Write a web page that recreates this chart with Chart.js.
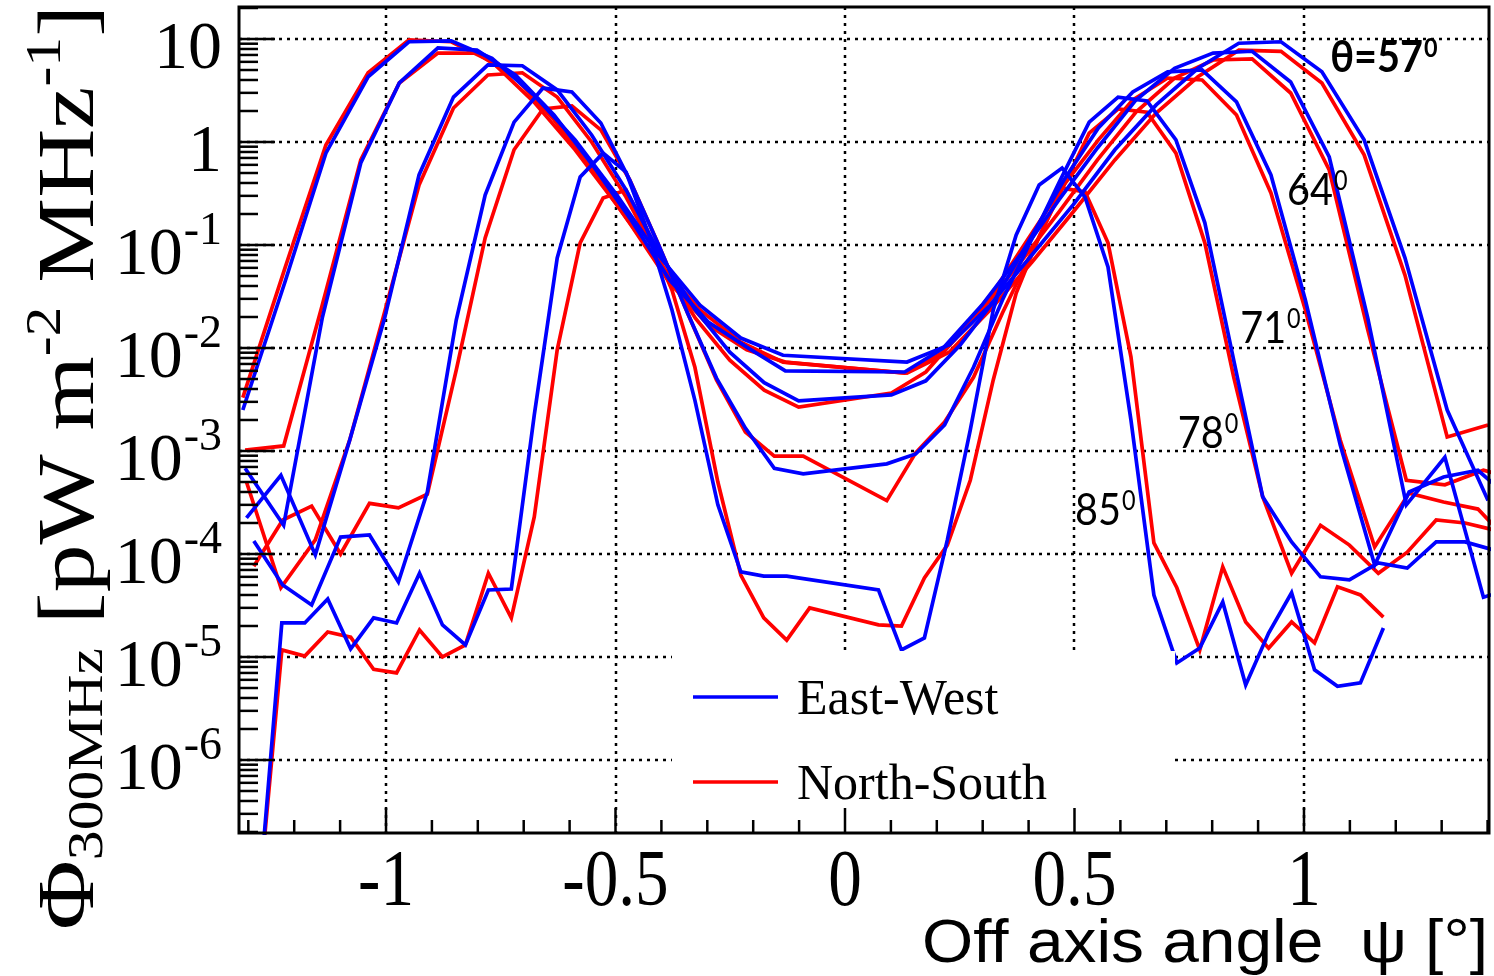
<!DOCTYPE html>
<html>
<head>
<meta charset="utf-8">
<title>Flux vs off axis angle</title>
<script src="https://cdn.jsdelivr.net/npm/chart.js@4.4.1/dist/chart.umd.min.js"></script>
<style>
  html, body { margin: 0; padding: 0; background: #fff; }
  #box { width: 1494px; height: 976px; }
</style>
</head>
<body>
<div id="box"><canvas id="chart" width="1494" height="976"></canvas></div>
<script>
// --- data: off axis angle psi [deg] and flux [pW m^-2 MHz^-1] per zenith angle ---
const psi57 = [-1.312, -1.220, -1.131, -1.039, -0.950, -0.858, -0.769, -0.678, -0.588, -0.497, -0.407, -0.316, -0.227, -0.135,
  0.135, 0.227, 0.316, 0.407, 0.497, 0.588, 0.678, 0.769, 0.858, 0.950, 1.039, 1.131, 1.220, 1.312, 1.401];
const flux57EW = [2.5e-3, 4.4e-2, 0.78, 4.3, 9.4, 9.6, 6.5, 2.86, 1.05, 0.305, 0.080, 0.026, 0.0125, 8.5e-3,
  7.3e-3, 0.0107, 0.026, 0.080, 0.245, 0.84, 2.29, 5.2, 9.1, 9.4, 4.8, 1.05, 0.075, 2.5e-3, 3.3e-4];
const flux57NS = [3.3e-3, 0.060, 0.935, 4.7, 9.8, 9.4, 6.0, 2.45, 0.84, 0.245, 0.068, 0.0234, 0.0114, 7.3e-3,
  5.7e-3, 9.1e-3, 0.0234, 0.068, 0.209, 0.67, 1.91, 4.3, 7.8, 7.6, 3.74, 0.75, 0.051, 1.37e-3, 1.79e-3];

const psi64 = [-1.307, -1.223, -1.139, -1.055, -0.971, -0.887, -0.802, -0.718, -0.634, -0.550, -0.466, -0.382, -0.298, -0.214, -0.130,
  0.130, 0.214, 0.298, 0.382, 0.466, 0.550, 0.634, 0.718, 0.802, 0.887, 0.971, 1.055, 1.139, 1.223, 1.307, 1.391, 1.475];
const flux64EW = [6.8e-4, 1.9e-4, 0.0195, 0.625, 3.74, 8.2, 7.8, 4.47, 1.83, 0.598, 0.175, 0.0457, 0.0179, 0.0102, 6.0e-3,
  5.85e-3, 0.010, 0.026, 0.080, 0.274, 0.875, 2.56, 5.2, 7.3, 7.6, 3.83, 0.715, 0.0195, 3.0e-4, 8.7e-4, 3.8e-5, 5.0e-5];
const flux64NS = [1.02e-3, 1.12e-3, 0.026, 0.67, 3.74, 7.3, 7.3, 4.18, 1.64, 0.535, 0.156, 0.0428, 0.0167, 9.6e-3, 7.3e-3,
  5.7e-3, 9.1e-3, 0.0234, 0.068, 0.209, 0.67, 1.95, 4.18, 6.25, 6.4, 2.99, 0.535, 0.0150, 5.2e-4, 4.7e-4, 6.5e-4, 5.2e-4];

const psi71 = [-1.304, -1.229, -1.154, -1.079, -1.003, -0.928, -0.853, -0.778, -0.703, -0.627, -0.552, -0.477, -0.402, -0.326, -0.251, -0.176, -0.101,
  0.101, 0.176, 0.251, 0.326, 0.402, 0.477, 0.552, 0.627, 0.703, 0.778, 0.853, 0.928, 1.003, 1.079, 1.154, 1.229, 1.304, 1.379, 1.454];
const flux71EW = [2.24e-4, 5.8e-4, 9.8e-5, 1.28e-3, 0.0195, 0.479, 2.73, 5.6, 5.5, 3.2, 1.17, 0.342, 0.080, 0.0234, 9.1e-3, 4.6e-3, 3.06e-3,
  3.5e-3, 4.8e-3, 0.0107, 0.0292, 0.112, 0.428, 1.37, 3.06, 4.8, 5.0, 2.45, 0.479, 0.0292, 1.14e-3, 7.8e-5, 4.0e-4, 5.6e-4, 6.5e-4, 3.3e-4];
const flux71NS = [5.0e-4, 4.7e-5, 1.37e-4, 1.28e-3, 0.0224, 0.383, 2.14, 4.47, 4.7, 2.73, 1.0, 0.292, 0.068, 0.0195, 7.6e-3, 3.9e-3, 2.67e-3,
  3.66e-3, 5.85e-3, 0.014, 0.0366, 0.120, 0.383, 1.05, 2.56, 4.18, 4.0, 1.83, 0.32, 0.0234, 1.28e-3, 1.17e-4, 3.9e-4, 3.2e-4, 2.73e-4, 1.22e-4];

const psi78 = [-1.288, -1.225, -1.162, -1.099, -1.036, -0.973, -0.910, -0.847, -0.784, -0.721, -0.658, -0.595, -0.532, -0.469, -0.406, -0.343, -0.280, -0.217, -0.154, -0.091,
  0.091, 0.154, 0.217, 0.280, 0.343, 0.406, 0.469, 0.532, 0.595, 0.658, 0.721, 0.784, 0.847, 0.910, 0.973, 1.036, 1.099, 1.162, 1.225, 1.288, 1.351, 1.414];
const flux78EW = [1.34e-4, 5.0e-5, 3.2e-5, 1.46e-4, 1.53e-4, 5.35e-5, 4.0e-4, 0.0187, 0.305, 1.56, 3.34, 3.06, 1.53, 0.428, 0.1, 0.0219, 5.1e-3, 1.67e-3, 6.8e-4, 6.0e-4,
  7.5e-4, 9.35e-4, 1.79e-3, 6.5e-3, 0.0292, 0.112, 0.428, 1.56, 2.73, 2.5, 1.05, 0.164, 7.6e-3, 3.6e-4, 1.31e-4, 6.0e-5, 5.6e-5, 8.2e-5, 7.3e-5, 1.31e-4, 1.31e-4, 1.09e-4];
const flux78NS = [7.6e-5, 2.14e-4, 2.92e-4, 1.0e-4, 3.1e-4, 2.8e-4, 3.8e-4, 6.1e-3, 0.117, 0.84, 2.09, 2.24, 1.31, 0.428, 0.1, 0.0219, 4.9e-3, 1.53e-3, 8.9e-4, 8.9e-4,
  3.3e-4, 9.6e-4, 1.91e-3, 5.2e-3, 0.0219, 0.0836, 0.32, 1.22, 2.09, 1.95, 0.78, 0.105, 5.2e-3, 3.6e-4, 6.5e-5, 1.9e-4, 1.22e-4, 6.5e-5, 1.04e-4, 2.14e-4, 2.0e-4, 1.71e-4];

const psi85EW = [-1.277, -1.227, -1.177, -1.127, -1.077, -1.027, -0.977, -0.927, -0.877, -0.827, -0.777, -0.727, -0.677, -0.627, -0.577, -0.527, -0.477, -0.427, -0.377, -0.327, -0.277, -0.227, -0.177, -0.127,
  0.073, 0.123, 0.173, 0.223, 0.273, 0.323, 0.373, 0.423, 0.473, 0.523, 0.573, 0.623, 0.673, 0.723, 0.773, 0.823, 0.873, 0.923, 0.973, 1.023, 1.073, 1.123, 1.173];
const flux85EW = [4.4e-8, 2.14e-5, 2.14e-5, 3.66e-5, 1.2e-5, 2.4e-5, 2.14e-5, 6.5e-5, 2.05e-5, 1.31e-5, 4.47e-5, 4.57e-5, 2.24e-3, 0.0748, 0.457, 0.78, 0.51, 0.125, 0.0234, 3.1e-3, 3.0e-4, 6.7e-5, 6.1e-5, 6.1e-5,
  4.47e-5, 1.17e-5, 1.53e-5, 1.37e-4, 1.6e-3, 0.0234, 0.125, 0.383, 0.56, 0.292, 0.0611, 2.0e-3, 4.0e-5, 8.75e-6, 1.22e-5, 3.42e-5, 5.35e-6, 1.71e-5, 4.2e-5, 7.5e-6, 5.2e-6, 5.6e-6, 1.91e-5];
const psi85NS = [-1.277, -1.227, -1.177, -1.127, -1.077, -1.027, -0.977, -0.927, -0.877, -0.827, -0.777, -0.727, -0.677, -0.627, -0.577, -0.527, -0.477, -0.427, -0.377, -0.327, -0.277, -0.227, -0.177, -0.127, -0.077,
  0.073, 0.123, 0.173, 0.223, 0.273, 0.323, 0.373, 0.423, 0.473, 0.523, 0.573, 0.623, 0.673, 0.723, 0.773, 0.823, 0.873, 0.923, 0.973, 1.023, 1.073, 1.123, 1.173];
const flux85NS = [4.4e-8, 1.17e-5, 1.02e-5, 1.75e-5, 1.56e-5, 7.6e-6, 7.0e-6, 1.83e-5, 1.0e-5, 1.31e-5, 6.5e-5, 2.4e-5, 2.29e-4, 9.6e-3, 0.105, 0.286, 0.342, 0.120, 0.0366, 6.5e-3, 5.0e-4, 6.25e-5, 2.4e-5, 1.46e-5, 3.0e-5,
  2.05e-5, 2.0e-5, 5.85e-5, 1.22e-4, 5.2e-4, 4.9e-3, 0.0342, 0.120, 0.357, 0.327, 0.105, 8.2e-3, 1.28e-4, 4.7e-5, 1.17e-5, 7.5e-5, 2.19e-5, 1.22e-5, 2.19e-5, 1.37e-5, 4.8e-5, 4.0e-5, 2.44e-5];

// axis ticks and labels
const xTicks = [-1, -0.5, 0, 0.5, 1];
const yExponents = [1, 0, -1, -2, -3, -4, -5, -6];
const legendLabels = ['East-West', 'North-South'];
const angleLabels = [
  { text: 'θ=57', psi: 1.057, flux: 4.8, bold: true },
  { text: '64', psi: 0.963, flux: 0.245, bold: false },
  { text: '71', psi: 0.861, flux: 0.0112, bold: false },
  { text: '78', psi: 0.725, flux: 1.07e-3, bold: false },
  { text: '85', psi: 0.501, flux: 1.9e-4, bold: false }
];

const BLUE = '#0000ff';
const RED = '#ff0000';
const SERIF = '"Liberation Serif", "Times New Roman", serif';
const SANS = '"Liberation Sans", Arial, sans-serif';
const LABEL_FONT = 'Lato, "Open Sans", sans-serif';

function series(label, psi, flux, color) {
  return {
    label,
    data: psi.map((x, i) => ({ x, y: flux[i] })),
    borderColor: color,
    backgroundColor: color,
    borderWidth: 3.7,
    pointRadius: 0,
    tension: 0,
    fill: false,
    clip: 2
  };
}

// --- helper: text with optional horizontal squeeze ---
function textAt(ctx, str, x, y, font, align, scaleX) {
  ctx.save();
  ctx.font = font;
  ctx.textBaseline = 'alphabetic';
  const w = ctx.measureText(str).width * (scaleX || 1);
  let x0 = x;
  if (align === 'right') x0 = x - w;
  else if (align === 'center') x0 = x - w / 2;
  ctx.translate(x0, y);
  ctx.scale(scaleX || 1, 1);
  ctx.textAlign = 'left';
  ctx.fillText(str, 0, 0);
  ctx.restore();
  return w;
}

const decor = {
  id: 'decor',
  beforeDatasetsDraw(chart) {
    const { ctx, chartArea: a, scales: { x, y } } = chart;
    ctx.save();
    ctx.strokeStyle = '#000';
    ctx.lineWidth = 2.5;
    ctx.setLineDash([3, 5]);
    xTicks.forEach(v => {
      const px = Math.round(x.getPixelForValue(v));
      ctx.beginPath(); ctx.moveTo(px, a.top); ctx.lineTo(px, a.bottom); ctx.stroke();
    });
    yExponents.forEach(e => {
      const py = Math.round(y.getPixelForValue(Math.pow(10, e)));
      ctx.beginPath(); ctx.moveTo(a.left, py); ctx.lineTo(a.right, py); ctx.stroke();
    });
    ctx.restore();
  },
  afterDatasetsDraw(chart) {
    const { ctx, chartArea: a, scales: { x, y } } = chart;

    // legend box, drawn over the grid
    ctx.save();
    ctx.fillStyle = '#fff';
    ctx.fillRect(672, 651, 503, a.bottom - 651);
    const colors = [BLUE, RED];
    const rows = [697, 782];
    legendLabels.forEach((t, i) => {
      ctx.strokeStyle = colors[i];
      ctx.lineWidth = 3.7;
      ctx.beginPath(); ctx.moveTo(693, rows[i]); ctx.lineTo(778, rows[i]); ctx.stroke();
      ctx.fillStyle = '#000';
      textAt(ctx, t, 797, rows[i] + 17, '50px ' + SERIF, 'left', 1);
    });
    ctx.restore();

    // frame
    ctx.save();
    ctx.strokeStyle = '#000';
    ctx.lineWidth = 3;
    ctx.strokeRect(a.left, a.top, a.right - a.left, a.bottom - a.top);

    // log ticks on the left axis, pointing in
    ctx.lineWidth = 2.5;
    for (let d = -7; d <= 1; d++) {
      for (let m = 1; m <= 9; m++) {
        const v = m * Math.pow(10, d);
        if (v < y.min || v > y.max) continue;
        const py = y.getPixelForValue(v);
        const len = m === 1 ? 36 : 19;
        ctx.beginPath(); ctx.moveTo(a.left, py); ctx.lineTo(a.left + len, py); ctx.stroke();
      }
    }
    // ticks on the bottom axis, pointing in
    for (let k = -13; k <= 14; k++) {
      const px = x.getPixelForValue(k / 10);
      const len = k % 5 === 0 ? 25 : 13;
      ctx.beginPath(); ctx.moveTo(px, a.bottom); ctx.lineTo(px, a.bottom - len); ctx.stroke();
    }
    ctx.restore();

    // tick labels
    ctx.save();
    ctx.fillStyle = '#000';
    xTicks.forEach(v => {
      const px = x.getPixelForValue(v);
      textAt(ctx, String(v), px, a.bottom + 72, '80px ' + SERIF, 'center', 0.84);
    });
    yExponents.forEach(e => {
      const py = y.getPixelForValue(Math.pow(10, e));
      const right = a.left - 17;
      if (e === 1 || e === 0) {
        textAt(ctx, e === 1 ? '10' : '1', right, py + 29, '68px ' + SERIF, 'right', 1);
      } else {
        const sw = textAt(ctx, String(e), right, py - 1, '46px ' + SERIF, 'right', 1);
        textAt(ctx, '10', right - sw - 1, py + 29, '68px ' + SERIF, 'right', 1);
      }
    });
    ctx.restore();

    // x axis title
    ctx.save();
    ctx.fillStyle = '#000';
    ctx.font = '62px ' + SANS;
    const xt = 'Off axis angle  ψ [°]';
    const xw = ctx.measureText(xt).width;
    textAt(ctx, xt, 1488, 962, '62px ' + SANS, 'right', 566 / xw);
    ctx.restore();

    // y axis title, rotated
    ctx.save();
    ctx.fillStyle = '#000';
    const parts = [
      { t: 'Φ', size: 80, dy: 0 },
      { t: '300MHz', size: 50, dy: 9 },
      { t: ' [pW m', size: 80, dy: 0 },
      { t: '-2', size: 50, dy: -33 },
      { t: ' MHz', size: 80, dy: 0 },
      { t: '-1', size: 50, dy: -33 },
      { t: ']', size: 80, dy: 0 }
    ];
    let total = 0;
    parts.forEach(p => { ctx.font = p.size + 'px ' + SERIF; p.w = ctx.measureText(p.t).width; total += p.w; });
    const sx = 925 / total;
    ctx.translate(93, 930);
    ctx.rotate(-Math.PI / 2);
    let cx = 0;
    parts.forEach(p => {
      ctx.save();
      ctx.font = p.size + 'px ' + SERIF;
      ctx.translate(cx, p.dy);
      ctx.scale(sx, 1);
      ctx.fillText(p.t, 0, 0);
      ctx.restore();
      cx += p.w * sx;
    });
    ctx.restore();

    // zenith angle annotations
    ctx.save();
    ctx.fillStyle = '#000';
    angleLabels.forEach(l => {
      const px = x.getPixelForValue(l.psi);
      const py = y.getPixelForValue(l.flux);
      const w = textAt(ctx, l.text, px, py, (l.bold ? 'bold ' : '') + '44px ' + LABEL_FONT, 'left', 0.9);
      textAt(ctx, '0', px + w + 1, py - 15, (l.bold ? 'bold ' : '') + '26px ' + LABEL_FONT, 'left', 0.9);
    });
    ctx.restore();
  }
};

const datasets = [
  series('East-West 57°', psi57, flux57EW, BLUE),
  series('East-West 64°', psi64, flux64EW, BLUE),
  series('East-West 71°', psi71, flux71EW, BLUE),
  series('East-West 78°', psi78, flux78EW, BLUE),
  series('East-West 85°', psi85EW, flux85EW, BLUE),
  series('North-South 57°', psi57, flux57NS, RED),
  series('North-South 64°', psi64, flux64NS, RED),
  series('North-South 71°', psi71, flux71NS, RED),
  series('North-South 78°', psi78, flux78NS, RED),
  series('North-South 85°', psi85NS, flux85NS, RED)
];

new Chart(document.getElementById('chart'), {
  type: 'line',
  data: { datasets },
  options: {
    responsive: false,
    animation: false,
    devicePixelRatio: 1,
    layout: { padding: { top: 7, right: 5, left: 0, bottom: 0 } },
    plugins: { legend: { display: false }, tooltip: { enabled: false }, title: { display: false } },
    scales: {
      x: {
        type: 'linear', min: -1.3203, max: 1.4031,
        grid: { display: false }, border: { display: false }, ticks: { display: false },
        afterBuildTicks: s => { s.ticks = xTicks.map(v => ({ value: v })); },
        afterFit: s => { s.height = 143; }
      },
      y: {
        type: 'logarithmic', min: 1.955e-7, max: 20.45,
        grid: { display: false }, border: { display: false }, ticks: { display: false },
        afterBuildTicks: s => { s.ticks = yExponents.map(e => ({ value: Math.pow(10, e) })); },
        afterFit: s => { s.width = 239; }
      }
    }
  },
  plugins: [decor]
});
</script>
</body>
</html>
